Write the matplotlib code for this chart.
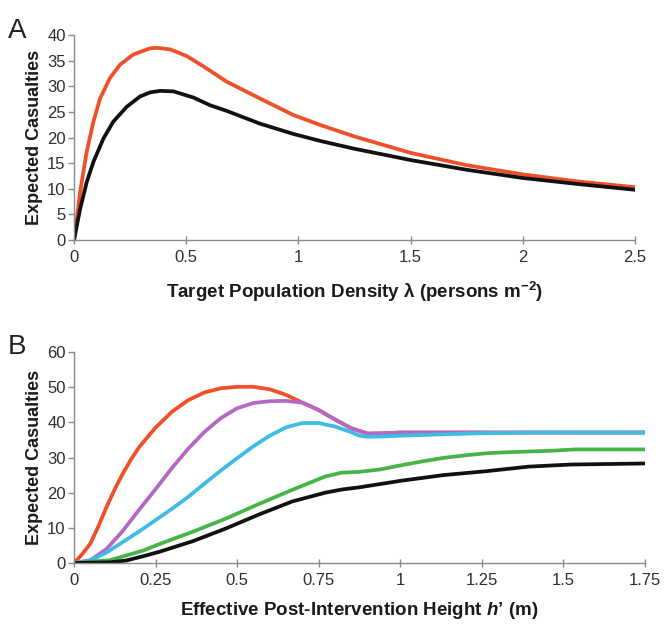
import numpy as np
import matplotlib
matplotlib.use("Agg")
import matplotlib.pyplot as plt

plt.rcParams['font.family'] = ['Liberation Sans', 'DejaVu Sans']
plt.rcParams['mathtext.fontset'] = 'custom'
plt.rcParams['mathtext.rm'] = 'Liberation Sans:bold'
plt.rcParams['mathtext.it'] = 'Liberation Sans:bold:italic'
plt.rcParams['mathtext.default'] = 'regular'

# panel A: expected casualties vs target population density
a_red_x = [0, 0.01, 0.027, 0.056, 0.086, 0.116, 0.16, 0.205, 0.264, 0.339, 0.368, 0.428,
           0.502, 0.576, 0.68, 0.829, 0.977, 1.1, 1.25, 1.5, 1.75, 2.0, 2.25, 2.5]
a_red_y = [0, 3.2, 9.3, 17.1, 23.0, 27.6, 31.6, 34.2, 36.2, 37.4, 37.5, 37.2,
           35.9, 33.9, 30.9, 27.6, 24.4, 22.4, 20.2, 17.0, 14.6, 12.8, 11.4, 10.3]
a_blk_x = [0, 0.027, 0.056, 0.086, 0.131, 0.175, 0.235, 0.294, 0.339, 0.383, 0.443, 0.532,
           0.606, 0.68, 0.829, 0.977, 1.1, 1.25, 1.5, 1.75, 2.0, 2.25, 2.5]
a_blk_y = [0, 6.0, 11.2, 15.2, 19.8, 23.1, 26.0, 28.0, 28.8, 29.1, 29.0, 27.8,
           26.3, 25.2, 22.7, 20.7, 19.3, 17.8, 15.6, 13.7, 12.1, 10.9, 9.8]

# panel B: expected casualties vs effective post-intervention height
b_red_x = [0, 0.025, 0.05, 0.075, 0.1, 0.125, 0.15, 0.175, 0.2, 0.25, 0.3, 0.35, 0.4,
           0.45, 0.5, 0.55, 0.6, 0.65, 0.7, 0.75, 0.8, 0.85, 0.9, 0.95, 1.0, 1.75]
b_red_y = [0, 2.5, 5.5, 10.5, 16.0, 21.0, 25.5, 29.5, 33.0, 38.5, 43.0, 46.3, 48.5,
           49.7, 50.1, 50.1, 49.4, 47.8, 45.6, 43.5, 40.8, 38.3, 36.8, 36.9, 37.1, 37.1]
b_pur_x = [0, 0.05, 0.1, 0.15, 0.2, 0.25, 0.3, 0.35, 0.4, 0.45, 0.5, 0.55, 0.6,
           0.65, 0.7, 0.75, 0.8, 0.85, 0.9, 0.95, 1.0, 1.75]
b_pur_y = [0, 0.8, 4.0, 9.2, 15.2, 21.0, 27.0, 32.5, 37.3, 41.2, 44.0, 45.5, 46.0,
           46.1, 45.6, 43.5, 40.8, 38.3, 36.8, 36.9, 37.1, 37.1]
b_cya_x = [0, 0.05, 0.1, 0.15, 0.2, 0.25, 0.3, 0.35, 0.4, 0.45, 0.5, 0.55, 0.6,
           0.65, 0.7, 0.75, 0.8, 0.85, 0.875, 0.9, 0.95, 1.0, 1.1, 1.25, 1.4, 1.75]
b_cya_y = [0, 0.7, 3.0, 6.0, 9.0, 12.2, 15.4, 18.8, 22.6, 26.3, 29.8, 33.2, 36.2,
           38.6, 39.8, 39.8, 38.8, 37.2, 36.2, 35.9, 36.0, 36.2, 36.5, 36.9, 37.1, 37.1]
b_grn_x = [0, 0.11, 0.211, 0.262, 0.364, 0.465, 0.567, 0.669, 0.77, 0.821, 0.872, 0.938,
           1.003, 1.068, 1.133, 1.198, 1.263, 1.328, 1.458, 1.536, 1.75]
b_grn_y = [0, 0.8, 3.5, 5.4, 8.9, 12.6, 16.8, 20.8, 24.6, 25.7, 25.9, 26.6,
           27.8, 28.9, 29.9, 30.6, 31.2, 31.5, 31.9, 32.3, 32.3]
b_blk_x = [0, 0.11, 0.16, 0.211, 0.262, 0.364, 0.465, 0.567, 0.669, 0.77, 0.821, 0.873,
           1.003, 1.133, 1.263, 1.393, 1.523, 1.75]
b_blk_y = [0, 0.2, 0.7, 1.9, 3.2, 6.2, 9.8, 13.8, 17.5, 20.0, 20.9, 21.5,
           23.4, 25.0, 26.1, 27.4, 28.0, 28.3]

a_xticks = [0, 0.5, 1, 1.5, 2, 2.5]
a_xticklabels = ["0", "0.5", "1", "1.5", "2", "2.5"]
a_yticks = [0, 5, 10, 15, 20, 25, 30, 35, 40]
b_xticks = [0, 0.25, 0.5, 0.75, 1, 1.25, 1.5, 1.75]
b_xticklabels = ["0", "0.25", "0.5", "0.75", "1", "1.25", "1.5", "1.75"]
b_yticks = [0, 10, 20, 30, 40, 50, 60]

RED = "#EF5029"
PURPLE = "#B468C4"
CYAN = "#3DBDE6"
GREEN = "#46B549"
BLACK = "#111111"
LW = 2.7


def style_axes(ax):
    for s in ["top", "right"]:
        ax.spines[s].set_visible(False)
    for s in ["left", "bottom"]:
        ax.spines[s].set_color("#8a8a8a")
        ax.spines[s].set_linewidth(1.0)
    ax.tick_params(axis="y", direction="out", length=4, width=1, color="#8a8a8a",
                   labelsize=12, labelcolor="#2b2f36", pad=2)
    ax.tick_params(axis="x", direction="inout", length=6, width=1, color="#8a8a8a",
                   labelsize=12, labelcolor="#2b2f36", pad=4)


fig = plt.figure(figsize=(6.65, 6.25), dpi=100)

axA = fig.add_axes([0.1113, 0.616, 0.8436, 0.328])
axA.plot(a_red_x, a_red_y, color=RED, lw=LW, solid_capstyle="round")
axA.plot(a_blk_x, a_blk_y, color=BLACK, lw=LW, solid_capstyle="round")
axA.set_xlim(0, 2.5)
axA.set_ylim(0, 40)
axA.set_xticks(a_xticks)
axA.set_xticklabels(a_xticklabels)
axA.set_yticks(a_yticks)
style_axes(axA)
axA.set_ylabel("Expected Casualties", fontsize=13, fontweight="bold", color="#1a1a1a", labelpad=3)
axA.set_xlabel(r"Target Population Density λ (persons m$^{-2}$)", fontsize=13.5,
               fontweight="bold", color="#1a1a1a", labelpad=11)

axB = fig.add_axes([0.1113, 0.0992, 0.8586, 0.3376])
axB.plot(b_red_x, b_red_y, color=RED, lw=LW, solid_capstyle="round")
axB.plot(b_pur_x, b_pur_y, color=PURPLE, lw=LW, solid_capstyle="round")
axB.plot(b_cya_x, b_cya_y, color=CYAN, lw=LW, solid_capstyle="round")
axB.plot(b_grn_x, b_grn_y, color=GREEN, lw=LW, solid_capstyle="round")
axB.plot(b_blk_x, b_blk_y, color=BLACK, lw=LW, solid_capstyle="round")
axB.set_xlim(0, 1.75)
axB.set_ylim(0, 60)
axB.set_xticks(b_xticks)
axB.set_xticklabels(b_xticklabels)
axB.set_yticks(b_yticks)
style_axes(axB)
axB.set_ylabel("Expected Casualties", fontsize=13, fontweight="bold", color="#1a1a1a", labelpad=3)
axB.set_xlabel(r"Effective Post-Intervention Height $\mathit{h}$’ (m)", fontsize=13.5,
               fontweight="bold", color="#1a1a1a", labelpad=9)

fig.text(0.012, 0.972, "A", fontsize=20, color="#222222", va="top", ha="left")
fig.text(0.012, 0.465, "B", fontsize=20, color="#222222", va="top", ha="left")

fig.savefig("out.png", dpi=100)
